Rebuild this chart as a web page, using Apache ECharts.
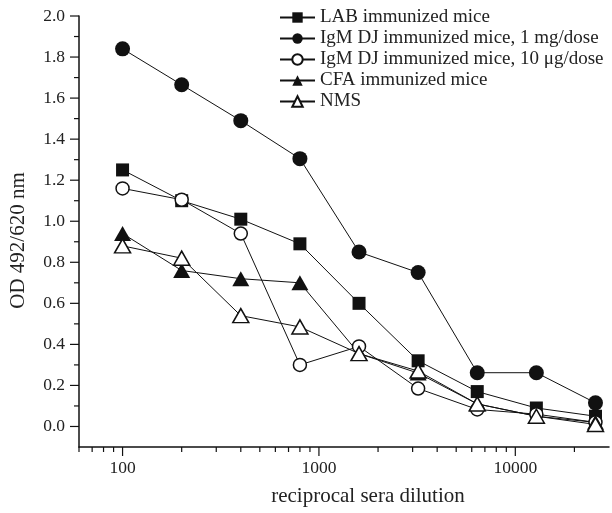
<!DOCTYPE html>
<html><head><meta charset="utf-8">
<script src="https://cdn.jsdelivr.net/npm/echarts@6/dist/echarts.min.js"></script>
<style>html,body{margin:0;padding:0;background:#fff}#c{width:612px;height:513px}</style>
</head><body><div id="c"></div>
<script>
var dilutions = [100, 200, 400, 800, 1600, 3200, 6400, 12800, 25600];
var labMice = [1.25, 1.10, 1.01, 0.89, 0.60, 0.32, 0.17, 0.09, 0.05];
var igm1mg = [1.84, 1.665, 1.49, 1.305, 0.85, 0.75, 0.262, 0.262, 0.115];
var igm10ug = [1.16, 1.105, 0.94, 0.30, 0.39, 0.185, 0.083, 0.06, 0.02];
var cfaMice = [0.94, 0.76, 0.72, 0.70, 0.355, 0.26, 0.11, 0.05, 0.02];
var nms = [0.88, 0.82, 0.54, 0.485, 0.355, 0.27, 0.11, 0.05, 0.01];
var seriesNames = ['LAB immunized mice', 'IgM DJ immunized mice, 1 mg/dose', 'IgM DJ immunized mice, 10 \u03bcg/dose', 'CFA immunized mice', 'NMS'];
var xMajorTicks = [100, 1000, 10000];
var xMinorTicks = [60, 70, 80, 90, 200, 300, 400, 500, 600, 700, 800, 900, 2000, 3000, 4000, 5000, 6000, 7000, 8000, 9000, 20000];
var yMajorTicks = [0, 0.2, 0.4, 0.6, 0.8, 1.0, 1.2, 1.4, 1.6, 1.8, 2.0];
var yMinorTicks = [0.1, 0.3, 0.5, 0.7, 0.9, 1.1, 1.3, 1.5, 1.7, 1.9];
var xMin = 60, xMax = 30000, yMin = -0.1, yMax = 2.0;

var FONT = '"Liberation Serif", "DejaVu Serif", serif';
function pairs(vals){ return dilutions.map(function(d,i){ return [d, vals[i]]; }); }
function lineSeries(name, vals, symbol, filled, size){
  return {
    name: name, type: 'line', data: pairs(vals), symbol: symbol, symbolSize: size,
    lineStyle: {color: '#111', width: 1},
    itemStyle: {color: filled ? '#111' : '#fff', borderColor: '#111', borderWidth: filled ? 0 : 1.5},
    z: 3
  };
}
var xTickData = xMajorTicks.map(function(v){return [v, yMin, 9];}).concat(xMinorTicks.map(function(v){return [v, yMin, 5];}));
var yTickData = yMajorTicks.map(function(v){return [xMin, v, 9];}).concat(yMinorTicks.map(function(v){return [xMin, v, 5];}));

var chart = echarts.init(document.getElementById('c'), null, {renderer: 'canvas'});
chart.setOption({
  animation: false,
  backgroundColor: '#fff',
  grid: {left: 79, right: -1, top: 16, bottom: 66, containLabel: false},
  legend: {
    data: seriesNames, orient: 'vertical', left: 279, top: 8, padding: 0,
    itemWidth: 35, itemHeight: 13, itemGap: 2,
    textStyle: {fontFamily: FONT, fontSize: 19, color: '#222'}
  },
  xAxis: {
    type: 'log', logBase: 10, min: xMin, max: xMax,
    name: 'reciprocal sera dilution', nameLocation: 'middle', nameGap: 39,
    nameTextStyle: {fontFamily: FONT, fontSize: 21, color: '#222', padding: [0, 0, 0, 48]},
    axisLine: {onZero: false, lineStyle: {color: '#111', width: 1.5}},
    axisTick: {show: false}, splitLine: {show: false}, minorTick: {show: false},
    axisLabel: {fontFamily: FONT, fontSize: 17.5, color: '#222', margin: 12,
      formatter: function(v){ return (xMajorTicks.indexOf(Math.round(v)) >= 0) ? String(Math.round(v)) : ''; }}
  },
  yAxis: {
    type: 'value', min: yMin, max: yMax,
    name: 'OD 492/620 nm', nameLocation: 'middle', nameGap: 50,
    nameTextStyle: {fontFamily: FONT, fontSize: 21, color: '#222', padding: [0, 18, 0, 0]},
    axisLine: {show: true, onZero: false, lineStyle: {color: '#111', width: 1.5}},
    axisTick: {show: false}, splitLine: {show: false},
    axisLabel: {fontFamily: FONT, fontSize: 17.5, color: '#222', margin: 14,
      customValues: yMajorTicks,
      formatter: function(v){ return v.toFixed(1); }}
  },
  series: [
    lineSeries(seriesNames[0], labMice, 'rect', true, 13),
    lineSeries(seriesNames[1], igm1mg, 'circle', true, 15),
    lineSeries(seriesNames[2], igm10ug, 'circle', false, 13),
    lineSeries(seriesNames[3], cfaMice, 'triangle', true, [17, 15]),
    lineSeries(seriesNames[4], nms, 'triangle', false, [16, 14]),
    {
      type: 'custom', name: 'xticks', data: xTickData, clip: false, silent: true, z: 1,
      renderItem: function(params, api){
        var p = api.coord([api.value(0), api.value(1)]);
        return {type: 'line', shape: {x1: p[0], y1: p[1], x2: p[0], y2: p[1] + api.value(2)}, style: {stroke: '#111', lineWidth: 1.2}};
      }
    },
    {
      type: 'custom', name: 'yticks', data: yTickData, clip: false, silent: true, z: 1,
      renderItem: function(params, api){
        var p = api.coord([api.value(0), api.value(1)]);
        return {type: 'line', shape: {x1: p[0] - api.value(2), y1: p[1], x2: p[0], y2: p[1]}, style: {stroke: '#111', lineWidth: 1.2}};
      }
    }
  ]
});
</script></body></html>
